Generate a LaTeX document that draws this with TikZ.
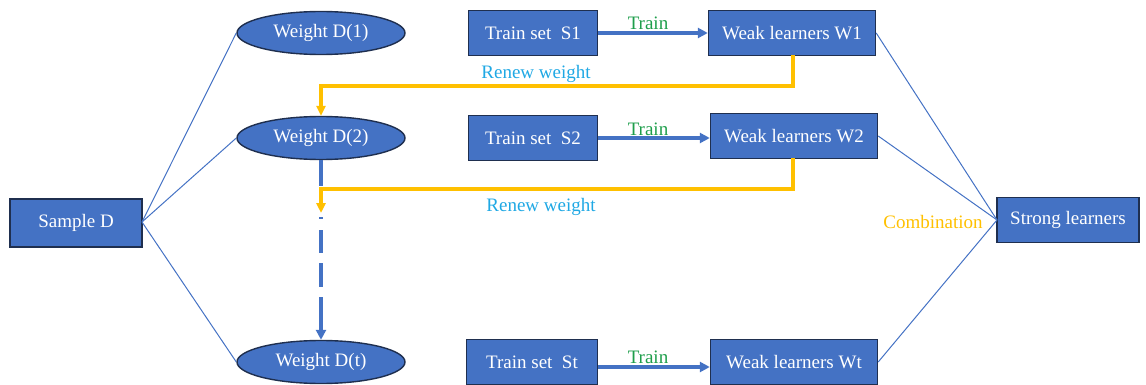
\documentclass[tikz,border=0pt]{standalone}
\usepackage{fontspec}
\setmainfont{Liberation Serif}
\usetikzlibrary{shapes.geometric,arrows.meta}
\definecolor{boxblue}{HTML}{4472C4}
\definecolor{boxedge}{HTML}{1F2F4F}
\definecolor{ylw}{HTML}{FFC000}
\definecolor{renew}{HTML}{1FA8E4}
\definecolor{trn}{HTML}{1E9E4B}
\begin{document}
\begin{tikzpicture}[x=1pt,y=-1pt,
  every node/.style={font=\fontsize{19}{22}\selectfont},
  bluebox/.style={draw=boxedge,line width=1.4pt,fill=boxblue,text=white,inner sep=0pt},
  wellipse/.style={bluebox,ellipse,minimum width=168pt,minimum height=43pt},
  thinline/.style={draw=boxblue,line width=1pt},
  trainarrow/.style={draw=boxblue,line width=3.2pt,-{Triangle[length=10pt,width=10pt]}},
  renewarrow/.style={draw=ylw,line width=3.4pt,-{Triangle[length=10pt,width=9pt]}},
  lbl/.style={inner sep=0pt}
]
\useasboundingbox (0,0) rectangle (1146,385);
% ellipses
\node[wellipse] (d1) at (321,33) {Weight D(1)};
\node[wellipse] (d2) at (321,138) {Weight D(2)};
\node[wellipse] (dt) at (321,362) {Weight D(t)};
% sample
\node[bluebox,minimum width=132pt,minimum height=48pt] (sd) at (76,223) {Sample D};
% train sets
\node[bluebox,minimum width=129pt,minimum height=45pt] (s1) at (533,33) {Train set\enspace S1};
\node[bluebox,minimum width=129pt,minimum height=45pt] (s2) at (533,138) {Train set\enspace S2};
\node[bluebox,minimum width=131pt,minimum height=45pt] (st) at (532,362) {Train set\enspace St};
% weak learners
\node[bluebox,minimum width=167pt,minimum height=45pt] (w1) at (792,33) {Weak learners W1};
\node[bluebox,minimum width=167pt,minimum height=45pt] (w2) at (794,136) {Weak learners W2};
\node[bluebox,minimum width=167pt,minimum height=45pt] (wt) at (794,362) {Weak learners Wt};
% strong
\node[bluebox,minimum width=142pt,minimum height=45pt] (sl) at (1068,220) {Strong learners};
% connection points
\coordinate (sdr) at (142,222);
\coordinate (slr) at (997,220);
\draw[thinline] (sdr) -- (d1.west);
\draw[thinline] (sdr) -- (d2.west);
\draw[thinline] (sdr) -- (dt.west);
\draw[thinline] (w1.east) -- (slr);
\draw[thinline] (w2.east) -- (slr);
\draw[thinline] (wt.east) -- (slr);
% train arrows
\coordinate (sta) at ([yshift=-5pt]st.east);
\draw[trainarrow] (s1.east) -- (w1.west |- s1.east);
\draw[trainarrow] (s2.east) -- (w2.west |- s2.east);
\draw[trainarrow] (sta) -- (wt.west |- sta);
\node[lbl,text=trn] (t1) at (648,23) {Train};
\node[lbl,text=trn] (t2) at (648,129) {Train};
\node[lbl,text=trn] (t3) at (648,357) {Train};
% dashed blue arrow
\draw[draw=boxblue,line width=3.2pt,dash pattern=on 26pt off 31pt on 2pt off 11pt on 23pt off 10pt on 24pt off 10pt on 40pt,-{Triangle[length=10pt,width=10pt]}] (d2.south) -- (dt.north);
% renew arrows
\coordinate (c1) at (321,86);
\coordinate (c2) at (321,189);
\coordinate (e2) at (321,213);
\draw[renewarrow] (793,55) |- (c1) -- (d2.north);
\draw[renewarrow] (793,158) |- (c2) -- (e2);
\node[lbl,text=renew] (r1) at (536,74) {Renew weight};
\node[lbl,text=renew] (r2) at (541,207) {Renew weight};
\node[lbl,text=ylw] (cb) at (933,222) {Combination};
\end{tikzpicture}
\end{document}
